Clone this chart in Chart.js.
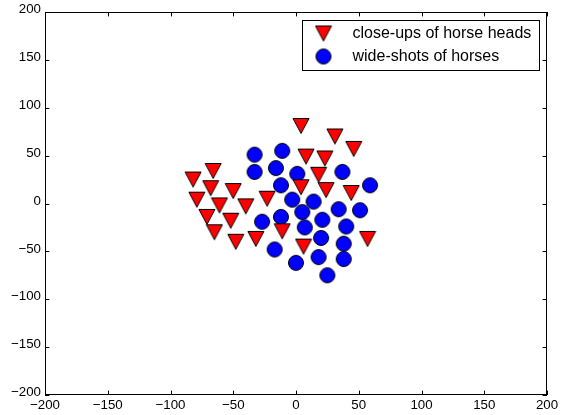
<!DOCTYPE html>
<html>
<head>
<meta charset="utf-8">
<script src="https://cdn.jsdelivr.net/npm/chart.js@4"></script>
<style>
  body { margin: 0; background: #fff; }
  canvas { display: block; }
</style>
</head>
<body>
<canvas id="chart" width="582" height="415"></canvas>
<script>
// data
const seriesLabels = ['close-ups of horse heads', 'wide-shots of horses'];
const closeX = [4, 31, 46, 8, 23, -66, -82, 18, -68, -50, 4, 24, 44, -79, -61, -40, -23, -71, -52, -65, -48, -32, -11, 6, 57];
const closeY = [81, 70, 57, 49, 47, 34, 25, 30, 16, 13, 17, 14, 11, 4, -2, -3, 5, -14, -18, -30, -40, -37, -29, -45, -37];
const wideX = [-33, -11, -33, -16, 1, 37, 59, -12, -3, 14, 5, 34, 51, -27, -12, 21, 7, 40, 20, 38, -17, 18, 38, 0, 25];
const wideY = [51, 55, 33, 37, 31, 33, 19, 19, 4, 2, -9, -6, -7, -19, -14, -17, -25, -24, -36, -42, -48, -56, -58, -62, -75];
const tickValues = [-200, -150, -100, -50, 0, 50, 100, 150, 200];

const FONT = "'Liberation Sans', Arial, sans-serif";

// matplotlib-like markers
function makeMarker(kind, fill) {
  const c = document.createElement('canvas');
  c.width = 18; c.height = 18;
  const g = c.getContext('2d');
  g.fillStyle = fill;
  g.strokeStyle = '#000';
  g.lineWidth = 1;
  g.beginPath();
  if (kind === 'v') {
    g.moveTo(1, 1.5); g.lineTo(17, 1.5); g.lineTo(9, 16.5); g.closePath();
  } else {
    g.arc(9, 9, 7.5, 0, Math.PI * 2);
  }
  g.fill(); g.stroke();
  return c;
}
const triMarker = makeMarker('v', '#ff0000');
const dotMarker = makeMarker('o', '#0000ff');

const toPoints = (xs, ys) => xs.map((x, i) => ({ x: x, y: ys[i] }));
const fmt = v => v < 0 ? '\u2212' + Math.abs(v) : String(v);

// frame with inward ticks on all four sides
const framePlugin = {
  id: 'frame',
  afterDraw(chart) {
    const { ctx, chartArea: a, scales } = chart;
    const len = 4.4;
    ctx.save();
    ctx.strokeStyle = '#000';
    ctx.lineWidth = 1;
    ctx.beginPath();
    tickValues.forEach(v => {
      const px = Math.round(scales.x.getPixelForValue(v)) + 0.5;
      ctx.moveTo(px, a.bottom); ctx.lineTo(px, a.bottom - len);
      ctx.moveTo(px, a.top); ctx.lineTo(px, a.top + len);
      const py = Math.round(scales.y.getPixelForValue(v)) + 0.5;
      ctx.moveTo(a.left, py); ctx.lineTo(a.left + len, py);
      ctx.moveTo(a.right, py); ctx.lineTo(a.right - len, py);
    });
    ctx.stroke();
    ctx.strokeRect(Math.round(a.left) + 0.5, Math.round(a.top) + 0.5,
      Math.round(a.right - a.left) - 1, Math.round(a.bottom - a.top) - 1);
    ctx.restore();
  }
};

// legend box in the upper right, like matplotlib's
const legendPlugin = {
  id: 'boxLegend',
  afterDraw(chart) {
    const ctx = chart.ctx;
    const a = chart.chartArea;
    const bx = Math.round(a.left + 257) + 0.5, by = 20.5, bw = 237, bh = 50;
    ctx.save();
    ctx.fillStyle = '#fff';
    ctx.fillRect(bx, by, bw, bh);
    ctx.strokeStyle = '#000';
    ctx.lineWidth = 1;
    ctx.strokeRect(bx, by, bw, bh);
    const markers = [triMarker, dotMarker];
    ctx.font = '16px ' + FONT;
    ctx.fillStyle = '#000';
    ctx.textBaseline = 'middle';
    seriesLabels.forEach((lab, i) => {
      const cy = by + 13 + i * 23;
      ctx.drawImage(markers[i], bx + 21 - 9, cy - 9);
      ctx.fillText(lab, bx + 50, cy);
    });
    ctx.restore();
  }
};

const axisBase = {
  type: 'linear',
  min: -200,
  max: 200,
  grid: { display: false, drawTicks: false },
  border: { display: false }
};

new Chart(document.getElementById('chart'), {
  type: 'scatter',
  data: {
    datasets: [
      {
        label: seriesLabels[0],
        data: toPoints(closeX, closeY),
        pointStyle: triMarker,
        pointRadius: 8,
        pointHoverRadius: 8
      },
      {
        label: seriesLabels[1],
        data: toPoints(wideX, wideY),
        pointStyle: dotMarker,
        pointRadius: 8,
        pointHoverRadius: 8
      }
    ]
  },
  options: {
    responsive: false,
    animation: false,
    devicePixelRatio: 1,
    layout: { padding: { top: 12, right: 35, left: 0, bottom: 0 } },
    plugins: {
      legend: { display: false },
      tooltip: { enabled: false }
    },
    scales: {
      x: Object.assign({}, axisBase, {
        position: 'bottom',
        afterFit: s => { s.height = 20; },
        ticks: {
          stepSize: 50, autoSkip: false, maxRotation: 0, padding: 2,
          color: '#000', font: { family: FONT, size: 13.3 },
          callback: fmt
        }
      }),
      y: Object.assign({}, axisBase, {
        position: 'left',
        afterFit: s => { s.width = 45; },
        ticks: {
          stepSize: 50, autoSkip: false, padding: 4, labelOffset: -2.5,
          color: '#000', font: { family: FONT, size: 13.3 },
          callback: fmt
        }
      })
    }
  },
  plugins: [framePlugin, legendPlugin]
});
</script>
</body>
</html>
